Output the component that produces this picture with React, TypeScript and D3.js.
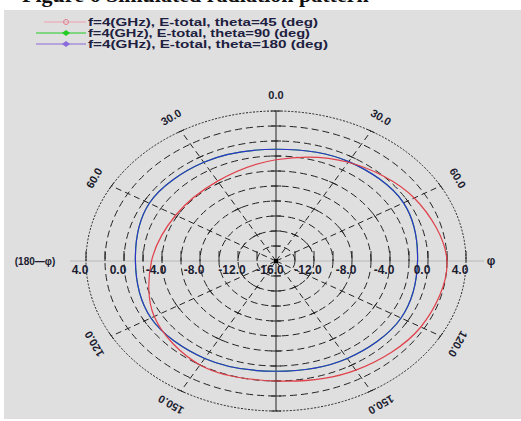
import React from "react";
import * as d3 from "d3";

// phi angles (deg) and E-total in dB
const phiDeg = [0, 30, 60, 90, 120, 150, 180, 210, 240, 270, 300, 330];
const eTheta45 = [-2.5, -0.8, 0.8, 2.0, 1.6, 0.8, 0.0, 0.0, -1.2, -2.9, -3.8, -3.7];
const eTheta90 = [-1.1, -0.7, -0.5, -1.1, -0.8, -1.0, -1.3, -1.0, -0.8, -1.2, -0.6, -0.8];
const eTheta180 = [-1.1, -0.7, -0.5, -1.1, -0.8, -1.0, -1.3, -1.0, -0.8, -1.2, -0.6, -0.8];

const ringValues = [-14, -12, -10, -8, -6, -4, -2, 0, 2, 4];
const radialLabels = [4, 0, -4, -8, -12, -16];
const angleTicks = [0, 30, 60, -30, -60, 120, 150, -120, -150];
const angleTickLabels = ["0.0", "30.0", "60.0", "30.0", "60.0", "120.0", "150.0", "120.0", "150.0"];
const spokeAngles = [0, 30, 60, 90, 120, 150, 180, 210, 240, 270, 300, 330];

const legendLabels = [
  "f=4(GHz), E-total, theta=45 (deg)",
  "f=4(GHz), E-total, theta=90 (deg)",
  "f=4(GHz), E-total, theta=180 (deg)",
];
const legendWidths = [230, 222, 240];
const seriesColors = ["#e0404a", "#1fc21f", "#3030d0"];
const legendLineColors = ["#f0a0b0", "#22cc22", "#8a6ad8"];

const cx = 276;
const cy = 261;
const rx = 190;
const ry = 150;

const rScale = d3.scaleLinear().domain([-16, 4]).range([0, 1]);
const rad = (deg: number) => (deg * Math.PI) / 180;

const pt = (deg: number, db: number): [number, number] => {
  const r = rScale(db);
  return [cx + rx * r * Math.sin(rad(deg)), cy - ry * r * Math.cos(rad(deg))];
};

const curve = d3
  .line<[number, number]>()
  .x((d) => d[0])
  .y((d) => d[1])
  .curve(d3.curveCatmullRomClosed.alpha(0.5));

const seriesList = [eTheta45, eTheta90, eTheta180];

export default function App() {
  const font = "'Liberation Sans', Arial, sans-serif";
  const majorRings = [-12, -8, -4, 0, 4];

  return (
    <svg width={521} height={421} style={{ position: "absolute", left: 0, top: 0 }}>
      <rect x={0} y={0} width={521} height={421} fill="#ffffff" />
      <rect x={4} y={10} width={517} height={409} fill="#dfdfdf" />
      {/* title, cut off at the top edge as in the source image */}
      <text x={22} y={2} fontFamily="'Liberation Serif', 'Times New Roman', serif" fontWeight="bold" fontSize={22} fill="#111">
        Figure 6 Simulated radiation pattern
      </text>

      {/* legend */}
      {legendLabels.map((lab, i) => {
        const y = 22 + i * 11;
        return (
          <g key={lab}>
            <line x1={i === 0 ? 44 : 36} x2={86} y1={y} y2={y} stroke={legendLineColors[i]} strokeWidth={1.2} />
            {i === 0 ? (
              <circle cx={66} cy={y} r={2.5} fill="none" stroke="#e08090" strokeWidth={1} />
            ) : (
              <path d={`M${62},${y} l4,-3 l4,3 l-4,3 z`} fill={legendLineColors[i]} />
            )}
            <text
              x={88}
              y={y + 4}
              fontFamily={font}
              fontWeight="bold"
              fontSize={11}
              textLength={legendWidths[i]}
              lengthAdjust="spacingAndGlyphs"
              fill="#202040"
            >
              {lab}
            </text>
          </g>
        );
      })}

      {/* horizontal axis */}
      <line x1={70} x2={484} y1={cy} y2={cy} stroke="#b8b8b8" strokeWidth={1} />

      {/* rings */}
      {ringValues.map((v) => (
        <ellipse
          key={v}
          cx={cx}
          cy={cy}
          rx={rx * rScale(v)}
          ry={ry * rScale(v)}
          fill="none"
          stroke="#222"
          strokeWidth={1}
          strokeDasharray={v === 4 ? "2,1.5" : "7,4"}
        />
      ))}

      {/* spokes */}
      {spokeAngles.map((a) => {
        const [x2, y2] = pt(a, 4);
        const vertical = a === 0 || a === 180;
        const horizontal = a === 90 || a === 270;
        if (horizontal) return null;
        return (
          <line
            key={a}
            x1={cx}
            y1={cy}
            x2={x2}
            y2={y2}
            stroke="#222"
            strokeWidth={1}
            strokeDasharray={vertical ? undefined : "6,4"}
          />
        );
      })}

      {/* cross ticks on spokes */}
      {spokeAngles
        .filter((a) => a % 90 !== 0)
        .map((a) =>
          majorRings.map((v) => {
            const [x, y] = pt(a, v);
            const tx = Math.cos(rad(a)) * rx;
            const ty = Math.sin(rad(a)) * ry;
            const len = Math.hypot(tx, ty);
            const ux = (tx / len) * 4;
            const uy = (ty / len) * 4;
            return (
              <line key={`${a}_${v}`} x1={x - ux} y1={y - uy} x2={x + ux} y2={y + uy} stroke="#222" strokeWidth={1} />
            );
          })
        )}

      {/* ticks along vertical axis */}
      {ringValues.map((v) =>
        [0, 180].map((a) => {
          const [x, y] = pt(a, v);
          return <line key={`v${a}_${v}`} x1={x - 5} x2={x + 5} y1={y} y2={y} stroke="#222" strokeWidth={1} />;
        })
      )}

      {/* ticks along horizontal axis */}
      {ringValues.map((v) =>
        [90, 270].map((a) => {
          const [x, y] = pt(a, v);
          return <line key={`h${a}_${v}`} x1={x} x2={x} y1={y - 10} y2={y} stroke="#222" strokeWidth={1} />;
        })
      )}

      {/* curves */}
      {[1, 2, 0].map((i) => (
        <path
          key={i}
          d={curve(phiDeg.map((p, k) => pt(p, seriesList[i][k]))) || ""}
          fill="none"
          stroke={seriesColors[i]}
          strokeWidth={1.2}
        />
      ))}

      <rect x={cx - 2} y={cy - 2} width={4} height={4} fill="#000" />

      {/* radial labels */}
      {radialLabels.map((v) =>
        [270, 90].map((a) => {
          if (v === -16 && a === 90) return null;
          const [x] = pt(a, v);
          return (
            <text
              key={`l${a}_${v}`}
              x={x - 6}
              y={cy + 13}
              textAnchor="middle"
              fontFamily={font}
              fontWeight="bold"
              fontSize={12}
              fill="#1c1c30"
            >
              {v.toFixed(1)}
            </text>
          );
        })
      )}

      {/* angle labels */}
      {angleTicks.map((a, i) => {
        const r = 1.1;
        const x = cx + rx * r * Math.sin(rad(a));
        const y = cy - ry * r * Math.cos(rad(a));
        return (
          <text
            key={`a${i}`}
            x={x}
            y={y}
            transform={`rotate(${a},${x},${y})`}
            textAnchor="middle"
            dominantBaseline="middle"
            fontFamily={font}
            fontWeight="bold"
            fontSize={11}
            fill="#1c1c30"
          >
            {angleTickLabels[i]}
          </text>
        );
      })}
      <text x={35} y={cy + 4} textAnchor="middle" fontFamily={font} fontWeight="bold" fontSize={10} fill="#1c1c30">
        (180—φ)
      </text>
      <text x={491} y={cy + 4} textAnchor="middle" fontFamily={font} fontWeight="bold" fontSize={12} fill="#1c1c30">
        φ
      </text>
    </svg>
  );
}
